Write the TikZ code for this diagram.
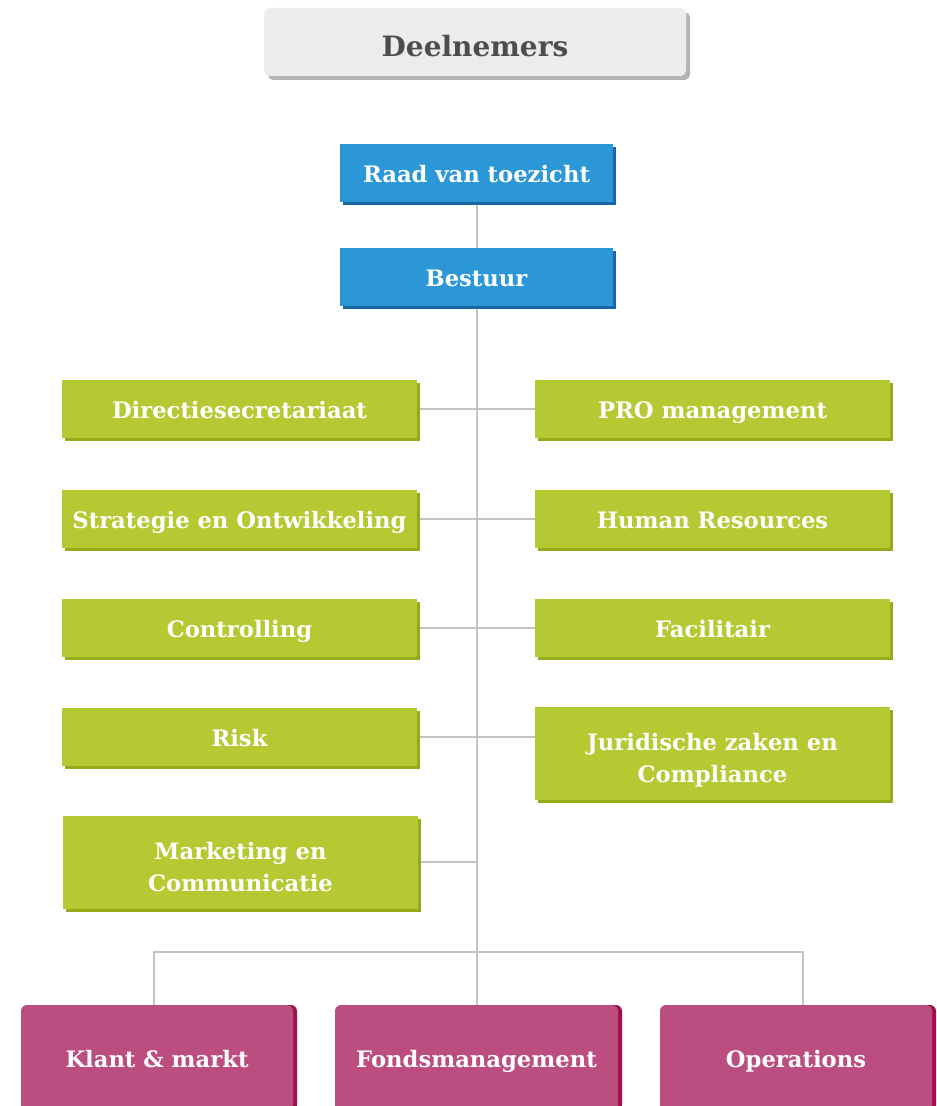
\documentclass[tikz,border=0pt]{standalone}
\usepackage{fontspec}
\setmainfont{DejaVu Serif}
\usetikzlibrary{shadows,backgrounds}

\definecolor{deelfill}{HTML}{ECECEC}
\definecolor{deelshade}{HTML}{B4B4B4}
\definecolor{deeltext}{HTML}{4D4D4D}
\definecolor{bluefill}{HTML}{2B97D6}
\definecolor{blueshade}{HTML}{1A64A8}
\definecolor{greenfill}{HTML}{B5C932}
\definecolor{greenshade}{HTML}{97AB1A}
\definecolor{pinkfill}{HTML}{BB4D81}
\definecolor{pinkshade}{HTML}{A3104F}
\definecolor{linegrey}{HTML}{C4C4C4}

\tikzset{
  unit/.style={rectangle, inner sep=0pt, align=center, text=white,
    font=\bfseries\fontsize{17}{24}\selectfont},
  oneline/.style={text height=14pt, text depth=0pt},
  twoline/.style={text height=44pt, text depth=0pt},
  deelbox/.style={unit, rounded corners=4pt, fill=deelfill, text=deeltext,
    minimum width=316.5pt, minimum height=51pt,
    font=\bfseries\fontsize{21}{24}\selectfont, text height=22pt, text depth=0pt,
    drop shadow={shadow xshift=3pt, shadow yshift=-3pt, fill=deelshade, opacity=1}},
  bluebox/.style={unit, oneline, fill=bluefill, minimum width=204.75pt, minimum height=43.5pt,
    drop shadow={shadow xshift=2.6pt, shadow yshift=-2.6pt, fill=blueshade, opacity=1}},
  greenbase/.style={unit, fill=greenfill, minimum width=266.25pt,
    drop shadow={shadow xshift=2.6pt, shadow yshift=-2.6pt, fill=greenshade, opacity=1}},
  greenbox/.style={greenbase, oneline, minimum height=43.5pt},
  greentall/.style={greenbase, twoline, minimum height=69.75pt},
  pinkbox/.style={unit, oneline, fill=pinkfill, rounded corners=4.5pt, minimum width=204pt,
    minimum height=79.5pt,
    drop shadow={shadow xshift=3pt, shadow yshift=0pt, fill=pinkshade, opacity=1}},
  link/.style={draw=linegrey, line width=1.5pt}
}

\begin{document}
\begin{tikzpicture}[x=0.75pt, y=-0.75pt]
  %%%%% START %%%%%
  \useasboundingbox (0,0) rectangle (937,1106);
  \clip (0,0) rectangle (937,1106);

  \node[deelbox] (deel) at (475,42) {Deelnemers};

  \node[bluebox] (raad) at (476.5,173) {Raad van toezicht};
  \node[bluebox] (bestuur) at (476.5,277) {Bestuur};

  \node[greenbox] (dir) at (239.5,409) {Directiesecretariaat};
  \node[greenbox] (strat) at (239.5,519) {Strategie en Ontwikkeling};
  \node[greenbox] (contr) at (239.5,628) {Controlling};
  \node[greenbox] (risk) at (239.5,737) {Risk};
  \node[greentall] (mark) at (240.5,862) {Marketing en\\Communicatie};

  \node[greenbox] (pro) at (712.5,409) {PRO management};
  \node[greenbox] (hr) at (712.5,519) {Human Resources};
  \node[greenbox] (fac) at (712.5,628) {Facilitair};
  \node[greentall] (jur) at (712.5,753.5) {Juridische zaken en\\Compliance};

  \node[pinkbox] (klant) at (157,1058) {Klant \& markt};
  \node[pinkbox, minimum width=212.25pt] (fonds) at (476.5,1058) {Fondsmanagement};
  \node[pinkbox] (ops) at (796,1058) {Operations};

  \coordinate (barL) at (154,952);
  \coordinate (barR) at (803,952);

  \begin{scope}[on background layer]
    \draw[link] (raad.south) -- (fonds.north);
    \foreach \n in {dir,strat,contr,risk,mark}
      \draw[link] (\n.east) -- (\n.east -| fonds.north);
    \foreach \n in {pro,hr,fac}
      \draw[link] (\n.west) -- (\n.west -| fonds.north);
    \draw[link] (jur.west |- risk) -- (risk -| fonds.north);
    \draw[link] (barL |- klant.north) -- (barL) -- (barR) -- (barR |- ops.north);
  \end{scope}
  %%%%% END %%%%%
\end{tikzpicture}
\end{document}
